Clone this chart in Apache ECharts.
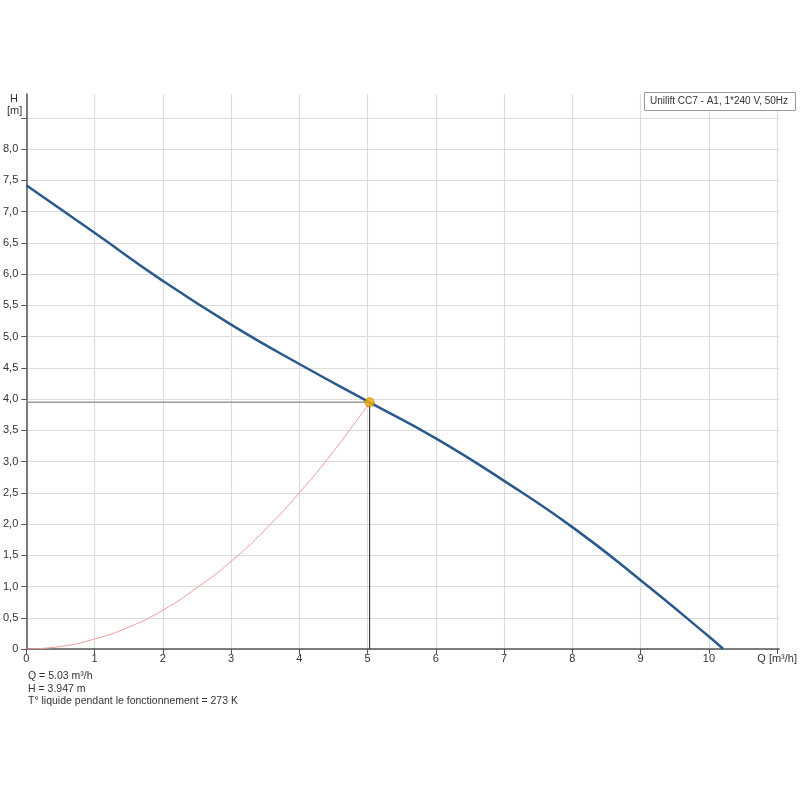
<!DOCTYPE html>
<html>
<head>
<meta charset="utf-8">
<script src="https://cdn.jsdelivr.net/npm/echarts@6/dist/echarts.min.js"></script>
<style>html,body{margin:0;padding:0;background:#fff}#c{width:800px;height:800px}</style>
</head>
<body>
<div id="c"></div>
<script>
// Pump curve Q [m3/h], H [m]
const pumpQ = [0, 1, 2, 3, 4, 5.03, 6, 7, 8, 9, 10, 10.21];
const pumpH = [7.42, 6.66, 5.89, 5.19, 4.56, 3.947, 3.37, 2.69, 1.95, 1.10, 0.2, 0];
// System curve
const sysQ = [0, 0.5, 1, 1.5, 2, 2.5, 3, 3.5, 4, 4.5, 5.03];
const sysH = [0, 0.04, 0.16, 0.35, 0.62, 0.98, 1.40, 1.91, 2.50, 3.16, 3.947];
// Operating point
const opQ = 5.03;
const opH = 3.947;
const legendText = 'Unilift CC7 - A1, 1*240 V, 50Hz';
const infoLines = ['Q = 5.03 m³/h', 'H = 3.947 m', 'T° liquide pendant le fonctionnement = 273 K'];
const xTickLabels = ['0','1','2','3','4','5','6','7','8','9','10','Q [m³/h]'];
const yUnlabeled = [8.5];

const chart = echarts.init(document.getElementById('c'), null, {renderer: 'canvas'});
const font = 'Liberation Sans, Arial, sans-serif';
chart.setOption({
  animation: false,
  backgroundColor: '#fff',
  grid: {left: 26, top: 94, right: 13, bottom: 151, containLabel: false},
  xAxis: {
    type: 'value', min: 0, max: 11.03, interval: 1,
    axisLine: {show: true, onZero: false, lineStyle: {color: '#555', width: 1.5}},
    axisTick: {show: true, length: 5, lineStyle: {color: '#555'}},
    axisLabel: {
      color: '#333', fontSize: 11, fontFamily: font, margin: 4, showMaxLabel: false,
      formatter: v => (Number.isInteger(v) && v < xTickLabels.length) ? xTickLabels[v] : ''
    },
    splitLine: {show: true, showMaxLine: false, lineStyle: {color: '#dcdcdc', width: 1.2}}
  },
  yAxis: {
    type: 'value', min: 0, max: 8.88, interval: 0.5,
    axisLine: {show: true, onZero: false, lineStyle: {color: '#555', width: 1.5}},
    axisTick: {show: true, length: 5, lineStyle: {color: '#555'}},
    axisLabel: {
      color: '#333', fontSize: 11, fontFamily: font, margin: 8, showMaxLabel: false,
      formatter: v => {
        if (Math.abs(v * 2 - Math.round(v * 2)) > 1e-6) return '';
        if (yUnlabeled.some(u => Math.abs(u - v) < 1e-6)) return '';
        return v === 0 ? '0' : v.toFixed(1).replace('.', ',');
      }
    },
    splitLine: {show: true, showMaxLine: false, lineStyle: {color: '#dcdcdc', width: 1.2}}
  },
  series: [
    {
      type: 'line', data: sysQ.map((q, i) => [q, sysH[i]]), smooth: true,
      symbol: 'none', lineStyle: {color: '#f29a9a', width: 1}, z: 2
    },
    {
      type: 'line', data: [[0, opH], [opQ, opH]], symbol: 'none',
      lineStyle: {color: '#9a9a9a', width: 1.5}, z: 3
    },
    {
      type: 'line', data: [[opQ, 0], [opQ, opH]], symbol: 'none',
      lineStyle: {color: '#222', width: 1}, z: 3
    },
    {
      type: 'line', data: pumpQ.map((q, i) => [q, pumpH[i]]), smooth: 0.5,
      symbol: 'none', lineStyle: {color: '#2a5a8c', width: 2.5}, z: 4
    },
    {
      type: 'scatter', data: [[opQ, opH]], symbol: 'circle', symbolSize: 9,
      itemStyle: {color: '#f7b000', borderColor: '#c07a00', borderWidth: 1}, z: 5
    }
  ],
  graphic: [
    {type: 'text', left: 10, top: 93, style: {text: 'H', fontSize: 11, fontFamily: font, fill: '#333'}},
    {type: 'text', left: 7, top: 105, style: {text: '[m]', fontSize: 11, fontFamily: font, fill: '#333'}},
    {type: 'rect', shape: {x: 644.5, y: 92.5, width: 151, height: 18},
      style: {fill: '#fff', stroke: '#999', lineWidth: 1}, z: 10},
    {type: 'text', left: 650, top: 96, z: 11,
      style: {text: legendText, fontSize: 10, fontFamily: font, fill: '#333'}},
    {type: 'text', left: 28, top: 670, style: {text: infoLines.join('\n'), fontSize: 10.5, lineHeight: 12.5, fontFamily: font, fill: '#333'}}
  ]
});
</script>
</body>
</html>
